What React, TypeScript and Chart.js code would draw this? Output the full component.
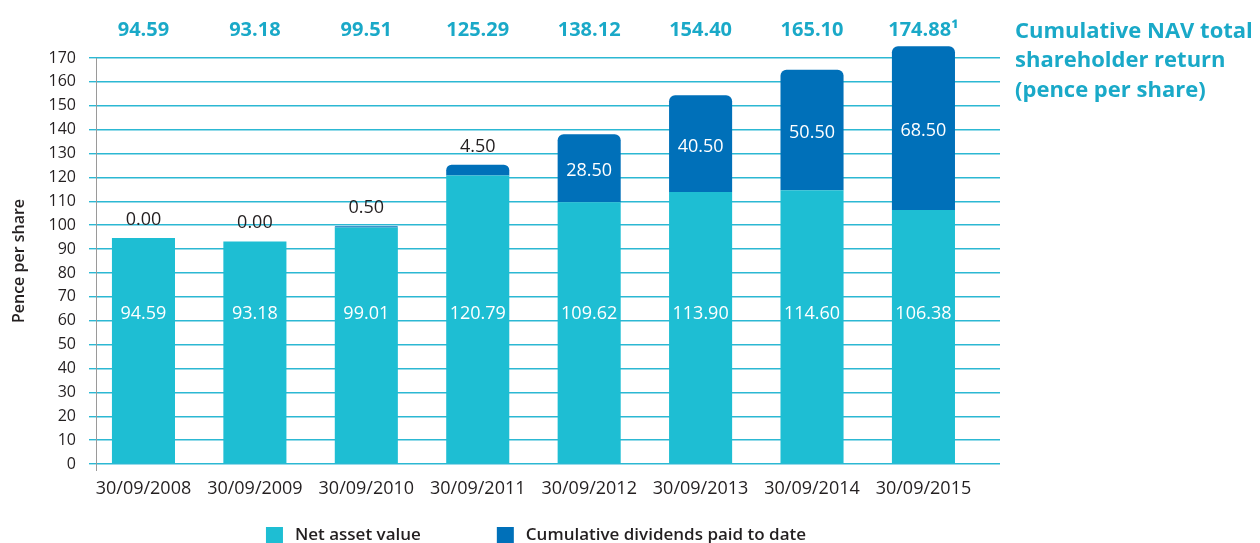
import { useEffect, useRef } from 'react';
import { Chart, registerables } from 'chart.js';

Chart.register(...registerables);

const categories = [
  '30/09/2008',
  '30/09/2009',
  '30/09/2010',
  '30/09/2011',
  '30/09/2012',
  '30/09/2013',
  '30/09/2014',
  '30/09/2015',
];
const navValues = [94.59, 93.18, 99.01, 120.79, 109.62, 113.9, 114.6, 106.38];
const dividendValues = [0.0, 0.0, 0.5, 4.5, 28.5, 40.5, 50.5, 68.5];
const totalFootnotes = ['', '', '', '', '', '', '', '¹'];
const yTicks = [0, 10, 20, 30, 40, 50, 60, 70, 80, 90, 100, 110, 120, 130, 140, 150, 160, 170];
const seriesLabels = ['Net asset value', 'Cumulative dividends paid to date'];
const chartTitle = ['Cumulative NAV total', 'shareholder return', '(pence per share)'];
const yAxisTitle = 'Pence per share';

const NAV_COLOR = '#1ebed3';
const DIV_COLOR = '#0070b9';
const GRID_COLOR = '#2cb8d3';
const TITLE_COLOR = '#1aa9c8';
const TEXT_COLOR = '#231f20';
const FONT = '"Open Sans", "Noto Sans", sans-serif';

export default function App() {
  const ref = useRef<HTMLCanvasElement>(null);

  useEffect(() => {
    const canvas = ref.current;
    if (!canvas) return;

    const labelPlugin = {
      id: 'customLabels',
      afterDatasetsDraw(chart: any) {
        const ctx = chart.ctx as CanvasRenderingContext2D;
        const navMeta = chart.getDatasetMeta(0);
        const divMeta = chart.getDatasetMeta(1);
        const yScale = chart.scales.y;
        const area = chart.chartArea;
        ctx.save();
        ctx.textAlign = 'center';

        navValues.forEach((v, i) => {
          const bar = navMeta.data[i];
          ctx.fillStyle = '#ffffff';
          ctx.font = `18px ${FONT}`;
          ctx.textBaseline = 'middle';
          ctx.fillText(v.toFixed(2), bar.x, yScale.getPixelForValue(63));
        });

        dividendValues.forEach((v, i) => {
          const bar = divMeta.data[i];
          const h = Math.abs(bar.base - bar.y);
          ctx.font = `18px ${FONT}`;
          if (h > 30) {
            ctx.fillStyle = '#ffffff';
            ctx.textBaseline = 'middle';
            ctx.fillText(v.toFixed(2), bar.x, (bar.y + bar.base) / 2 + 3);
          } else {
            ctx.fillStyle = TEXT_COLOR;
            ctx.textBaseline = 'alphabetic';
            ctx.fillText(v.toFixed(2), bar.x, Math.min(bar.y, bar.base) - 13);
          }
        });

        ctx.font = `700 20px ${FONT}`;
        ctx.fillStyle = TITLE_COLOR;
        ctx.textBaseline = 'alphabetic';
        navValues.forEach((v, i) => {
          const bar = navMeta.data[i];
          const total = (v + dividendValues[i]).toFixed(2) + totalFootnotes[i];
          ctx.fillText(total, bar.x, area.top - 22);
        });
        ctx.restore();
      },
      afterDraw(chart: any) {
        const ctx = chart.ctx as CanvasRenderingContext2D;
        const area = chart.chartArea;
        ctx.save();
        // y axis line
        ctx.strokeStyle = '#9a9a9a';
        ctx.lineWidth = 1;
        ctx.beginPath();
        ctx.moveTo(Math.round(area.left) + 0.5, area.top);
        ctx.lineTo(Math.round(area.left) + 0.5, area.bottom + 7);
        ctx.stroke();

        // title on the right
        ctx.font = `700 22px ${FONT}`;
        ctx.fillStyle = TITLE_COLOR;
        ctx.textAlign = 'left';
        ctx.textBaseline = 'alphabetic';
        chartTitle.forEach((line, i) => {
          ctx.fillText(line, area.right + 15, area.top - 20.5 + i * 29.5);
        });

        // legend
        ctx.font = `600 17px ${FONT}`;
        const box = 17;
        const gap = 12;
        const between = 76;
        const colors = [NAV_COLOR, DIV_COLOR];
        const widths = seriesLabels.map((t) => ctx.measureText(t).width);
        const total = box * 2 + gap * 2 + widths[0] + widths[1] + between;
        let x = (area.left + area.right) / 2 - 12 - total / 2;
        const boxTop = area.bottom + 63;
        seriesLabels.forEach((t, i) => {
          ctx.fillStyle = colors[i];
          ctx.fillRect(x, boxTop, box, box);
          ctx.fillStyle = TEXT_COLOR;
          ctx.fillText(t, x + box + gap, boxTop + 13);
          x += box + gap + widths[i] + between;
        });
        ctx.restore();
      },
    };

    const chart = new Chart(canvas, {
      type: 'bar',
      data: {
        datasets: [
          {
            label: seriesLabels[0],
            data: navValues.map((v, i) => ({ x: i, y: v })),
            backgroundColor: NAV_COLOR,
            borderRadius: 0,
            categoryPercentage: 1,
            barPercentage: 0.566,
            clip: false as any,
          },
          {
            label: seriesLabels[1],
            data: dividendValues.map((v, i) => ({ x: i, y: v })),
            backgroundColor: DIV_COLOR,
            borderRadius: 6,
            borderSkipped: 'start',
            categoryPercentage: 1,
            barPercentage: 0.566,
            clip: false as any,
          },
        ],
      },
      options: {
        animation: false,
        responsive: false,
        devicePixelRatio: 1,
        layout: { padding: { top: 58, right: 260, bottom: 0, left: 0 } },
        plugins: {
          legend: { display: false },
          tooltip: { enabled: false },
        },
        scales: {
          x: {
            type: 'linear',
            stacked: true,
            offset: false,
            min: -0.426,
            max: 7.687,
            afterBuildTicks: (s: any) => {
              s.ticks = categories.map((_, i) => ({ value: i }));
            },
            afterFit: (s: any) => {
              s.height = 79;
            },
            grid: { display: false, drawTicks: false, offset: false },
            border: { display: false },
            ticks: {
              autoSkip: false,
              maxRotation: 0,
              minRotation: 0,
              padding: 14,
              color: TEXT_COLOR,
              font: { family: FONT, size: 18 },
              callback: (v: any) => categories[v] ?? '',
            },
          },
          y: {
            stacked: true,
            min: 0,
            max: 170,
            afterBuildTicks: (s: any) => {
              s.ticks = yTicks.map((v) => ({ value: v }));
            },
            afterFit: (s: any) => {
              s.width = 96;
            },
            grid: {
              color: GRID_COLOR,
              lineWidth: 1.4,
              tickLength: 7,
              tickColor: GRID_COLOR,
              drawTicks: true,
            },
            border: { display: false },
            ticks: {
              padding: 13,
              color: TEXT_COLOR,
              font: { family: FONT, size: 16 },
            },
            title: {
              display: true,
              text: yAxisTitle,
              color: TEXT_COLOR,
              font: { family: FONT, size: 16, weight: 600 as any },
              padding: { top: 10, bottom: 0 },
            },
          },
        },
      },
      plugins: [labelPlugin],
    } as any);

    return () => chart.destroy();
  }, []);

  return (
    <div style={{ position: 'absolute', left: 0, top: 0, width: 1260, height: 543, overflow: 'hidden', background: '#fff' }}>
      <canvas ref={ref} width={1260} height={543} style={{ display: 'block', width: 1260, height: 543 }} />
    </div>
  );
}
